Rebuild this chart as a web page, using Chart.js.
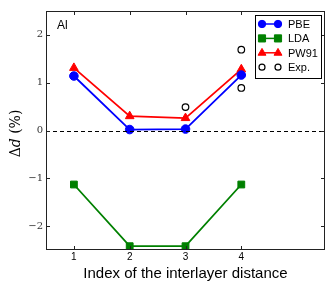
<!DOCTYPE html>
<html>
<head>
  <meta charset="UTF-8">
  <title>Al interlayer relaxation</title>
  <script src="https://cdn.jsdelivr.net/npm/chart.js"></script>
  <style>
    html, body { margin: 0; padding: 0; background: #fff; }
    #wrap { width: 332px; height: 286px; }
  </style>
</head>
<body>
  <div id="wrap"><canvas id="chart" width="332" height="286"></canvas></div>
  <script>
    const indices = [1, 2, 3, 4];
    const pbe = [1.14, 0.02, 0.03, 1.16];
    const lda = [-1.13, -2.42, -2.42, -1.13];
    const pw91 = [1.31, 0.30, 0.26, 1.28];
    const expX = [3, 4, 4];
    const expY = [0.49, 1.69, 0.89];
    const xTicks = [1, 2, 3, 4];
    const yTicks = [-2, -1, 0, 1, 2];

    const pts = (xs, ys) => xs.map((x, i) => ({ x: x, y: ys[i] }));

    // frame, inward ticks, zero line, y title, label and legend
    const decor = {
      id: 'decor',
      afterDraw(chart) {
        const c = chart.ctx, a = chart.chartArea;
        const xs = chart.scales.x, ys = chart.scales.y;
        c.save();
        // dashed zero line
        c.strokeStyle = '#000'; c.lineWidth = 1.2; c.setLineDash([4, 3]);
        const y0 = Math.round(ys.getPixelForValue(0)) + 0.5;
        c.beginPath(); c.moveTo(a.left, y0); c.lineTo(a.right, y0); c.stroke();
        c.setLineDash([]);
        // box
        c.lineWidth = 1; c.strokeStyle = '#222';
        c.strokeRect(a.left + 0.5, a.top + 0.5, a.right - a.left - 1, a.bottom - a.top - 1);
        // inward ticks
        c.beginPath();
        xTicks.forEach(v => {
          const px = Math.round(xs.getPixelForValue(v)) + 0.5;
          c.moveTo(px, a.bottom); c.lineTo(px, a.bottom - 4);
          c.moveTo(px, a.top); c.lineTo(px, a.top + 4);
        });
        yTicks.forEach(v => {
          const py = Math.round(ys.getPixelForValue(v)) + 0.5;
          c.moveTo(a.left, py); c.lineTo(a.left + 4, py);
          c.moveTo(a.right, py); c.lineTo(a.right - 4, py);
        });
        c.stroke();

        // y title: upright delta, italic d
        c.save();
        c.translate(16, (a.top + a.bottom) / 2 + 3);
        c.rotate(-Math.PI / 2);
        c.fillStyle = '#000'; c.textBaseline = 'middle'; c.textAlign = 'left';
        const parts = [['\u0394', ''], ['d', 'italic '], [' (%)', '']];
        let w = 0;
        parts.forEach(p => { c.font = p[1] + '14px "DejaVu Serif", serif'; w += c.measureText(p[0]).width; });
        let tx = -w / 2;
        parts.forEach(p => {
          c.font = p[1] + '14px "DejaVu Serif", serif';
          c.fillText(p[0], tx, 0);
          tx += c.measureText(p[0]).width;
        });
        c.restore();

        // element label
        c.fillStyle = '#000'; c.font = '12px "Liberation Sans", Arial, sans-serif';
        c.textBaseline = 'middle'; c.textAlign = 'left';
        c.fillText('Al', a.left + 11, a.top + 15);
        // legend
        const lx = 255, ly = 15, lw = 66, lh = 63;
        c.fillStyle = '#fff'; c.fillRect(lx, ly, lw, lh);
        c.strokeStyle = '#000'; c.lineWidth = 1;
        c.strokeRect(lx + 0.5, ly + 0.5, lw, lh);
        chart.data.datasets.forEach((ds, i) => {
          const yy = 24 + i * 14.4;
          const x1 = 262, x2 = 278;
          if (ds.showLine !== false) {
            c.strokeStyle = ds.borderColor; c.lineWidth = 1.5;
            c.beginPath(); c.moveTo(x1, yy); c.lineTo(x2, yy); c.stroke();
          }
          [x1, x2].forEach(px => drawMarker(c, ds, px, yy, ds.legendRadius));
          c.fillStyle = '#000'; c.font = '11px "Liberation Sans", Arial, sans-serif';
          c.textAlign = 'left'; c.textBaseline = 'middle';
          c.fillText(ds.label, 288, yy + 1);
        });
        c.restore();
      }
    };

    function drawMarker(c, ds, x, y, r) {
      c.save();
      c.fillStyle = ds.pointBackgroundColor; c.strokeStyle = ds.pointBorderColor;
      c.lineWidth = ds.pointBorderWidth;
      c.beginPath();
      if (ds.pointStyle === 'rect') {
        const h = r * 0.85;
        c.rect(x - h, y - h, 2 * h, 2 * h);
      } else if (ds.pointStyle === 'triangle') {
        c.moveTo(x, y - r); c.lineTo(x + r * 0.9, y + r * 0.55); c.lineTo(x - r * 0.9, y + r * 0.55); c.closePath();
      } else {
        c.arc(x, y, r, 0, Math.PI * 2);
      }
      c.fill(); c.stroke();
      c.restore();
    }

    const line = (label, ys, color, style, radius) => ({
      label: label, data: pts(indices, ys), borderColor: color, backgroundColor: color,
      borderWidth: 1.8, pointStyle: style, pointRadius: radius, legendRadius: radius - 0.6,
      pointBackgroundColor: color, pointBorderColor: color, pointBorderWidth: 1,
      showLine: true, tension: 0
    });

    new Chart(document.getElementById('chart'), {
      type: 'scatter',
      data: {
        datasets: [
          line('PBE', pbe, '#0000ff', 'circle', 4.3),
          line('LDA', lda, '#008000', 'rect', 4.8),
          line('PW91', pw91, '#ff0000', 'triangle', 5),
          {
            label: 'Exp.', data: pts(expX, expY), showLine: false,
            pointStyle: 'circle', pointRadius: 3.3, legendRadius: 3, pointBorderWidth: 1.2,
            pointBackgroundColor: '#fff', pointBorderColor: '#000',
            borderColor: '#000', backgroundColor: '#fff'
          }
        ]
      },
      options: {
        responsive: false, animation: false,
        layout: { padding: { top: 11, right: 7, left: 0, bottom: 0 } },
        plugins: { legend: { display: false }, tooltip: { enabled: false } },
        scales: {
          x: {
            type: 'linear', min: 0.5, max: 5.5,
            afterBuildTicks: s => { s.ticks = xTicks.map(v => ({ value: v })); },
            afterFit: s => { s.height = 36; },
            grid: { display: false, drawTicks: false }, border: { display: false },
            ticks: { padding: 1, color: '#000', font: { size: 10, family: '"Liberation Sans", Arial, sans-serif' } },
            title: {
              display: true, text: 'Index of the interlayer distance', color: '#000',
              padding: { top: 0, bottom: 3 }, font: { size: 15, family: '"Liberation Sans", Arial, sans-serif' }
            }
          },
          y: {
            min: -2.5, max: 2.5,
            afterBuildTicks: s => { s.ticks = yTicks.map(v => ({ value: v })); },
            afterFit: s => { s.width = 46; },
            grid: { display: false, drawTicks: false }, border: { display: false },
            ticks: {
              padding: 3, color: '#333',
              font: { size: 10, family: '"DejaVu Serif", serif' },
              callback: v => v < 0 ? '\u2212' + Math.abs(v) : String(v)
            },
            title: { display: false }
          }
        }
      },
      plugins: [decor]
    });
  </script>
</body>
</html>
